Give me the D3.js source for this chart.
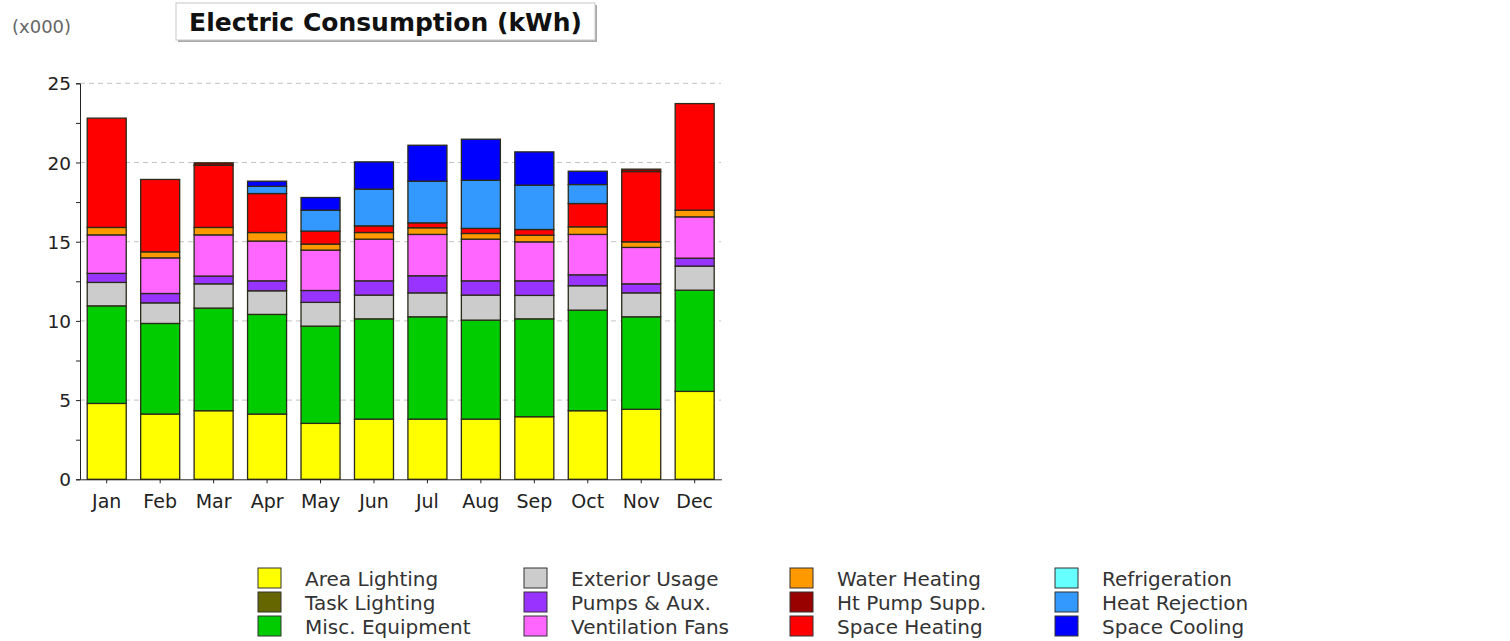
<!DOCTYPE html>
<html>
<head>
<meta charset="utf-8">
<script src="https://cdn.jsdelivr.net/npm/d3@7"></script>
<style>
  body { margin: 0; background: #fff; }
  svg { display: block; font-family: "DejaVu Sans", Verdana, sans-serif; }
</style>
</head>
<body>
<svg id="chart"></svg>
<script>
  //Months along the x axis
  const months = ['Jan', 'Feb', 'Mar', 'Apr', 'May', 'Jun', 'Jul', 'Aug', 'Sep', 'Oct', 'Nov', 'Dec'];

  //Monthly values per end use, thousands of kWh
  const areaLighting = [4.79, 4.12, 4.33, 4.12, 3.53, 3.80, 3.80, 3.80, 3.95, 4.33, 4.42, 5.55];
  const taskLighting = [0, 0, 0, 0, 0, 0, 0, 0, 0, 0, 0, 0];
  const miscEquipment = [6.16, 5.72, 6.48, 6.29, 6.14, 6.33, 6.46, 6.25, 6.18, 6.35, 5.84, 6.39];
  const exteriorUsage = [1.48, 1.30, 1.53, 1.49, 1.50, 1.50, 1.51, 1.58, 1.48, 1.54, 1.51, 1.52];
  const pumpsAux = [0.57, 0.59, 0.49, 0.63, 0.75, 0.90, 1.08, 0.90, 0.92, 0.69, 0.57, 0.50];
  const ventilationFans = [2.43, 2.25, 2.60, 2.51, 2.55, 2.63, 2.61, 2.63, 2.46, 2.55, 2.30, 2.61];
  const waterHeating = [0.47, 0.38, 0.47, 0.54, 0.38, 0.42, 0.42, 0.36, 0.42, 0.48, 0.35, 0.42];
  const htPumpSupp = [0, 0, 0.15, 0, 0, 0, 0, 0, 0, 0, 0.15, 0];
  const spaceHeating = [6.90, 4.57, 3.93, 2.46, 0.82, 0.42, 0.31, 0.32, 0.36, 1.47, 4.44, 6.73];
  const refrigeration = [0, 0, 0, 0, 0, 0, 0, 0, 0, 0, 0, 0];
  const heatRejection = [0, 0, 0, 0.46, 1.32, 2.32, 2.63, 3.04, 2.80, 1.20, 0, 0];
  const spaceCooling = [0, 0, 0, 0.32, 0.80, 1.72, 2.27, 2.59, 2.10, 0.84, 0, 0];

  //Legend order (column by column) and colours
  const seriesNames = ['Area Lighting', 'Task Lighting', 'Misc. Equipment', 'Exterior Usage', 'Pumps & Aux.',
    'Ventilation Fans', 'Water Heating', 'Ht Pump Supp.', 'Space Heating', 'Refrigeration', 'Heat Rejection', 'Space Cooling'];
  const seriesValues = [areaLighting, taskLighting, miscEquipment, exteriorUsage, pumpsAux, ventilationFans,
    waterHeating, htPumpSupp, spaceHeating, refrigeration, heatRejection, spaceCooling];
  const seriesColors = ['#ffff00', '#666600', '#00cc00', '#cccccc', '#9933ff', '#ff66ff',
    '#ff9900', '#990000', '#ff0000', '#66ffff', '#3399ff', '#0000ff'];
  //Order the segments are stacked from the bottom
  const stackOrder = ['Area Lighting', 'Task Lighting', 'Misc. Equipment', 'Exterior Usage', 'Pumps & Aux.',
    'Ventilation Fans', 'Water Heating', 'Space Heating', 'Ht Pump Supp.', 'Refrigeration', 'Heat Rejection', 'Space Cooling'];

  const yTicks = [0, 5, 10, 15, 20, 25];

  const width = 1510;
  const height = 641;
  const svg = d3.select('#chart').attr('width', width).attr('height', height);

  //Table for d3.stack
  const table = months.map((m, i) => {
    const row = { month: m };
    seriesNames.forEach((s, k) => { row[s] = seriesValues[k][i]; });
    return row;
  });
  const stacked = d3.stack().keys(stackOrder)(table);
  const color = d3.scaleOrdinal().domain(seriesNames).range(seriesColors);

  const x = d3.scaleBand().domain(months).range([80, 721.4]).paddingInner(0.27).paddingOuter(0.135);
  const y = d3.scaleLinear().domain([0, 25]).range([479.3, 83.3]);

  //Units label and title box
  svg.append('text')
    .attr('x', 12).attr('y', 33)
    .attr('font-size', 18).attr('fill', '#666')
    .text('(x000)');

  svg.append('rect').attr('x', 178).attr('y', 5).attr('width', 419).attr('height', 37).attr('fill', '#a8a8a8');
  svg.append('rect').attr('x', 176).attr('y', 3).attr('width', 419).attr('height', 37)
    .attr('fill', '#fff').attr('stroke', '#c8c8c8');
  svg.append('text')
    .attr('x', 385.5).attr('y', 30.5)
    .attr('text-anchor', 'middle')
    .attr('font-size', 25).attr('font-weight', 'bold').attr('fill', '#111')
    .text('Electric Consumption (kWh)');

  //Dashed gridlines
  svg.append('g')
    .selectAll('line')
    .data(yTicks.filter(d => d > 0))
    .enter().append('line')
    .attr('x1', 80).attr('x2', 721)
    .attr('y1', d => y(d)).attr('y2', d => y(d))
    .attr('stroke', '#c4c4c4').attr('stroke-dasharray', '5,4');

  //Bars
  svg.append('g')
    .selectAll('g')
    .data(stacked)
    .enter().append('g')
    .attr('fill', d => color(d.key))
    .selectAll('rect')
    .data(d => d.filter(p => p[1] - p[0] > 0))
    .enter().append('rect')
    .attr('x', d => x(d.data.month))
    .attr('width', x.bandwidth())
    .attr('y', d => y(d[1]))
    .attr('height', d => y(d[0]) - y(d[1]))
    .attr('stroke', '#2a2a1a').attr('stroke-width', 1.3);

  //Y axis with minor ticks
  const yAxis = svg.append('g').attr('transform', 'translate(80,0)')
    .call(d3.axisLeft(y).tickValues(d3.range(0, 25.1, 2.5)).tickSize(4)
      .tickFormat(d => yTicks.includes(d) ? d : ''));
  yAxis.select('.domain').attr('stroke', '#222');
  yAxis.selectAll('.tick line').attr('stroke', '#222');
  yAxis.selectAll('text').attr('font-size', 18.5).attr('fill', '#222')
    .attr('font-family', '"DejaVu Sans", Verdana, sans-serif').attr('dx', -2).attr('dy', '0.36em');

  //X axis
  const xAxis = svg.append('g').attr('transform', 'translate(0,479.3)')
    .call(d3.axisBottom(x).tickSize(4).tickSizeOuter(0));
  xAxis.select('.domain').attr('stroke', '#222');
  xAxis.selectAll('.tick line').attr('stroke', '#222');
  xAxis.selectAll('text').attr('font-size', 19).attr('fill', '#222')
    .attr('font-family', '"DejaVu Sans", Verdana, sans-serif').attr('y', 29).attr('dy', 0);

  //Legend, three rows per column
  const legendCols = [258, 524, 790, 1055];
  const legendRows = [578, 602, 626];
  const legend = svg.append('g')
    .selectAll('g')
    .data(seriesNames)
    .enter().append('g')
    .attr('transform', (d, i) => `translate(${legendCols[Math.floor(i / 3)]},${legendRows[i % 3]})`);
  legend.append('rect')
    .attr('x', 0).attr('y', -10).attr('width', 23).attr('height', 20)
    .attr('fill', d => color(d)).attr('stroke', '#333');
  legend.append('text')
    .attr('x', 47).attr('y', 7.5)
    .attr('font-size', 20).attr('fill', '#333')
    .text(d => d);
</script>
</body>
</html>
